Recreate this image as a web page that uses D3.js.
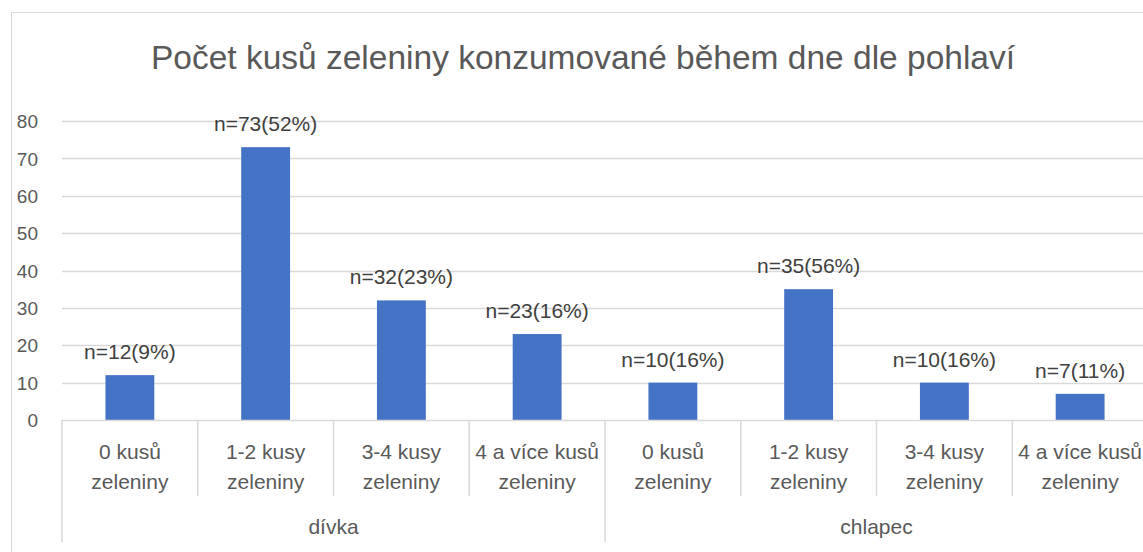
<!DOCTYPE html>
<html>
<head>
<meta charset="utf-8">
<script src="https://cdn.jsdelivr.net/npm/d3@7"></script>
<style>
	body { margin: 0; background: #fff; }
	text { font-family: "Liberation Sans", Arial, sans-serif; fill: #595959; }
</style>
</head>
<body>
<div id="chart"></div>
<script>
// data
var groups = ["dívka", "chlapec"];
var categories = ["0 kusů zeleniny", "1-2 kusy zeleniny", "3-4 kusy zeleniny", "4 a více kusů zeleniny"];
var categoryLines = [["0 kusů", "zeleniny"], ["1-2 kusy", "zeleniny"], ["3-4 kusy", "zeleniny"], ["4 a více kusů", "zeleniny"]];
var divkaValues = [12, 73, 32, 23];
var chlapecValues = [10, 35, 10, 7];
var divkaLabels = ["n=12(9%)", "n=73(52%)", "n=32(23%)", "n=23(16%)"];
var chlapecLabels = ["n=10(16%)", "n=35(56%)", "n=10(16%)", "n=7(11%)"];
var yTicks = [0, 10, 20, 30, 40, 50, 60, 70, 80];
var title = "Počet kusů zeleniny konzumované během dne dle pohlaví";

const
	W = 1143, H = 552,
	LEFT = 62, RIGHT = 1148,
	TOP = 121, BOTTOM = 420,
	BAR_COLOR = "#4472C4", GRID = "#d9d9d9";

var rows = [];
[divkaValues, chlapecValues].forEach(function(vals, gi){
	vals.forEach(function(v, ci){
		rows.push({
			key: groups[gi] + "|" + categories[ci],
			group: groups[gi], ci: ci, value: v,
			label: (gi == 0 ? divkaLabels : chlapecLabels)[ci]
		});
	});
});

var svg = d3.select("#chart").append("svg")
	.attr("width", W).attr("height", H);

// chart border
svg.append("path")
	.attr("d", "M11.5," + H + "V12.5H" + W)
	.attr("fill", "none").attr("stroke", GRID).attr("stroke-width", 1);

var x = d3.scaleBand().domain(rows.map(d => d.key))
	.range([LEFT, RIGHT]).paddingInner(0.64).paddingOuter(0.32);
var slot = d3.scaleBand().domain(rows.map(d => d.key)).range([LEFT, RIGHT]);
var y = d3.scaleLinear().domain([0, 80]).range([BOTTOM, TOP]);

svg.append("text")
	.attr("x", 583).attr("y", 69)
	.attr("text-anchor", "middle")
	.style("font-size", "33.5px")
	.text(title);

// gridlines
svg.append("g").selectAll("line")
	.data(yTicks.filter(t => t > 0))
	.enter().append("line")
	.attr("x1", LEFT).attr("x2", RIGHT)
	.attr("y1", d => Math.round(y(d)) + .5).attr("y2", d => Math.round(y(d)) + .5)
	.attr("stroke", GRID).attr("stroke-width", 1.5);

var yAxis = d3.axisLeft(y).tickValues(yTicks).tickSize(0).tickPadding(0);
svg.append("g")
	.attr("transform", "translate(38,0)")
	.call(yAxis)
	.call(g => g.select(".domain").remove())
	.selectAll("text")
	.style("font-size", "19px").attr("fill", "#595959").attr("dy", "0.35em");

svg.selectAll("rect.bar")
	.data(rows).enter().append("rect")
	.attr("class", "bar")
	.attr("x", d => x(d.key)).attr("width", x.bandwidth())
	.attr("y", d => y(d.value)).attr("height", d => y(0) - y(d.value))
	.attr("fill", BAR_COLOR);

svg.selectAll("text.val")
	.data(rows).enter().append("text")
	.attr("class", "val")
	.attr("x", d => x(d.key) + x.bandwidth() / 2)
	.attr("y", d => y(d.value) - 16)
	.attr("text-anchor", "middle")
	.style("font-size", "21px")
	.style("fill", "#404040")
	.text(d => d.label);

// category axis
var axisG = svg.append("g");
axisG.append("line")
	.attr("x1", LEFT).attr("x2", RIGHT)
	.attr("y1", BOTTOM + .5).attr("y2", BOTTOM + .5)
	.attr("stroke", GRID).attr("stroke-width", 1.5);

rows.forEach(function(d, i){
	var x0 = slot(d.key);
	axisG.append("line")
		.attr("x1", x0).attr("x2", x0)
		.attr("y1", BOTTOM).attr("y2", d.ci == 0 ? 542 : 496)
		.attr("stroke", GRID).attr("stroke-width", 1.5);
	var t = axisG.append("text")
		.attr("x", x0 + slot.bandwidth() / 2)
		.attr("text-anchor", "middle")
		.style("font-size", "21px");
	categoryLines[d.ci].forEach(function(line, li){
		t.append("tspan").attr("x", x0 + slot.bandwidth() / 2)
			.attr("y", 459 + li * 30).text(line);
	});
});
axisG.append("line")
	.attr("x1", RIGHT).attr("x2", RIGHT)
	.attr("y1", BOTTOM).attr("y2", 542)
	.attr("stroke", GRID).attr("stroke-width", 1.5);

groups.forEach(function(g){
	var keys = rows.filter(d => d.group == g).map(d => d.key);
	var gx = (slot(keys[0]) + slot(keys[keys.length - 1]) + slot.bandwidth()) / 2;
	axisG.append("text")
		.attr("x", gx).attr("y", 534)
		.attr("text-anchor", "middle")
		.style("font-size", "21px")
		.text(g);
});
</script>
</body>
</html>
